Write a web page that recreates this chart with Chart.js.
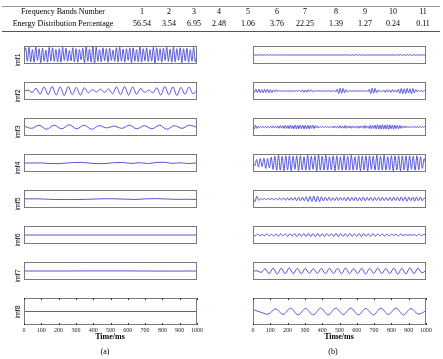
<!DOCTYPE html>
<html>
<head>
<meta charset="utf-8">
<script src="https://cdn.jsdelivr.net/npm/chart.js@4.4.1/dist/chart.umd.min.js"></script>
<style>
  body { margin: 0; background: #fff; width: 443px; height: 359px; position: relative; overflow: hidden; font-family: "Liberation Serif", serif; color: #000; }
  #table { position: absolute; left: 0; top: 0; width: 443px; height: 34px; filter: grayscale(1); }
  .cell { position: absolute; width: 60px; height: 10px; line-height: 10px; text-align: center; font-size: 8px; white-space: nowrap; color: #000; }
  .rule { position: absolute; left: 2px; width: 438px; height: 1px; }
  .imf { position: absolute; font-family: "Liberation Sans", sans-serif; font-size: 7px; color: #000; transform: translate(-50%, -50%) rotate(-90deg); }
  .cap { position: absolute; width: 60px; height: 10px; line-height: 10px; text-align: center; font-size: 8px; color: #000; white-space: nowrap; filter: grayscale(1); }
</style>
</head>
<body>
<div class="rule" style="top:6px;background:#9a9a9a"></div>
<div class="rule" style="top:31px;background:#555"></div>
<div id="table"></div>
<div id="panels"></div>
<div class="cap" style="left:80px;top:332px;font-weight:bold">Time/ms</div>
<div class="cap" style="left:309px;top:332px;font-weight:bold">Time/ms</div>
<div class="cap" style="left:75px;top:347px">(a)</div>
<div class="cap" style="left:303px;top:347px">(b)</div>
<script>
// table data
const bandNumbers = ["1", "2", "3", "4", "5", "6", "7", "8", "9", "10", "11"];
const energyPercent = ["56.54", "3.54", "6.95", "2.48", "1.06", "3.76", "22.25", "1.39", "1.27", "0.24", "0.11"];
const rowLabels = ["Frequency Bands Number", "Energy Distribution Percentage"];

// x axis ticks (ms)
const timeTicks = [0, 100, 200, 300, 400, 500, 600, 700, 800, 900, 1000];

// left column (a): imf1..imf8, read as successive peaks / troughs
const imf1 = [0.1,0.8,-0.7,0.85,-0.75,0.6,-0.8,0.9,-0.6,0.7,-0.85,0.75,-0.7,0.55,-0.8,0.85,-0.65,0.8,-0.7,0.6,
  -0.75,0.7,-0.8,0.85,-0.6,0.75,-0.7,0.5,-0.65,0.8,-0.75,0.7,-0.8,0.6,-0.55,0.75,-0.85,0.9,-0.7,0.65,
  -0.8,0.95,-0.9,0.85,-0.7,0.6,-0.75,0.8,-0.65,0.7,-0.8,0.75,-0.6,0.55,-0.7,0.8,-0.75,0.85,-0.7,0.65,
  -0.8,0.7,-0.6,0.75,-0.85,0.8,-0.7,0.6,-0.75,0.9,-0.8,0.7,-0.65,0.8,-0.75,0.6,-0.7,0.85,-0.9,0.8,
  -0.65,0.7,-0.8,0.75,-0.6,0.85,-0.7,0.65,-0.8,0.9,-0.75,0.7,-0.6,0.8,-0.85,0.7,-0.65,0.75,-0.8,0.6,
  -0.7,0.85,-0.75,0.1];
const imf2 = [0,0.1,-0.15,0.3,-0.35,0.45,-0.4,0.5,-0.45,0.45,-0.5,0.5,-0.4,0.4,-0.45,0.35,-0.2,0.15,-0.1,0.2,
  -0.15,0.25,-0.3,0.45,-0.4,0.5,-0.45,0.45,-0.35,0.3,-0.15,0.1,-0.2,0.35,-0.45,0.5,-0.4,0.45,-0.5,0.4,
  -0.35,0.45,-0.3,0.1];
const imf3 = [0.1,-0.15,0.2,-0.25,0.2,-0.2,0.25,-0.2,0.2,-0.25,0.15,-0.1,0.1,-0.15,0.2,-0.2,0.15,-0.2,0.2,-0.25,
  0.15,-0.15,0.2,-0.05];
const imf4 = [0,0,0.01,-0.06,-0.07,-0.02,0.05,0.06,-0.02,-0.07,-0.05,0.04,0.06,-0.05,0.03,-0.06,0.05,0.09,-0.04,0.02,-0.06,0.02];
const imf5 = [0.02,0.02,0,-0.06,-0.06,-0.06,-0.04,0,0.03,0.02,-0.02,-0.05,0.02,0.04,0,-0.04,-0.03,-0.05];
const imf6 = [0,0];
const imf7 = [0,0,0.01,0.01,-0.01,0];
const imf8 = [0,0];

// right column (b)
const bandB1 = [0,0,0,0,0,0.03,-0.04,0.05,-0.05,0.04,-0.05,0.05,-0.04,0.05,-0.05,0.04,-0.03,0.02,0,0,
  0,0,0,0,0,0,0,0,0,0, 0,0,0,0,0,0,0,0,0,0, 0,0,0,0,0,0,0,0,0,0, 0,0,0,0,0,0,0,0,0,0.02,
  -0.03,0.04,-0.05,0.04,-0.05,0.05,-0.04,0.05,-0.04,0.03, -0.02,0,0,0,0,0,0,0,0,0,
  0,0,0,0,0,0,0,0,0,0.02, -0.03,0.04,-0.05,0.06,-0.06,0.05,-0.06,0.06,-0.05,0.06,
  -0.06,0.05,-0.04,0.03,-0.02,0,0,0,0,0];
const bandB2 = [0.1,-0.15,0.2,-0.18,0.2,-0.2,0.15,-0.2,0.18,-0.15, 0.2,-0.18,0.15,-0.2,0.12,-0.1,0.15,-0.08,0.05,-0.03,
  0.02,-0.02,0.03,-0.02,0.02,-0.03,0.02,-0.02,0.02,-0.02, 0.03,-0.02,0.06,-0.1,0.12,-0.15,0.12,-0.14,0.15,-0.1,
  0.12,-0.08,0.05,-0.04,0.03,-0.02,0.02,-0.03,0.02,-0.02, 0.03,-0.02,0.02,-0.03,0.02,-0.04,0.06,-0.12,0.2,-0.28,
  0.3,-0.25,0.28,-0.2,0.15,-0.1,0.05,-0.03,0.02,-0.02, 0.02,-0.02,0.03,-0.02,0.02,-0.03,0.02,-0.02,0.05,-0.1,
  0.2,-0.28,0.3,-0.25,0.28,-0.2,0.12,-0.08,0.06,-0.1, 0.12,-0.15,0.14,-0.12,0.1,-0.15,0.15,-0.12,0.1,-0.15,
  0.2,-0.25,0.28,-0.3,0.25,-0.3,0.28,-0.22,0.25,-0.3, 0.28,-0.2,0.15,-0.1,0.06,-0.05,0.04,-0.06,0.05,-0.03];
const bandB3 = [0.2,-0.22,0.18,-0.15,0.1,-0.08,0.06,-0.05,0.05,-0.06, 0.08,-0.1,0.08,-0.06,0.08,-0.1,0.12,-0.1,0.08,-0.1,
  0.12,-0.14,0.15,-0.12,0.14,-0.16,0.18,-0.15,0.16,-0.18, 0.2,-0.18,0.16,-0.2,0.22,-0.2,0.18,-0.2,0.22,-0.18,
  0.2,-0.22,0.2,-0.18,0.2,-0.22,0.18,-0.15,0.2,-0.18, 0.15,-0.12,0.1,-0.08,0.06,-0.05,0.04,-0.05,0.06,-0.05,
  0.04,-0.05,0.06,-0.08,0.1,-0.12,0.1,-0.08,0.1,-0.12, 0.14,-0.12,0.1,-0.14,0.16,-0.14,0.12,-0.1,0.12,-0.14,
  0.12,-0.1,0.08,-0.1,0.12,-0.14,0.12,-0.1,0.12,-0.15, 0.16,-0.14,0.12,-0.15,0.18,-0.2,0.18,-0.15,0.2,-0.22,
  0.24,-0.22,0.2,-0.25,0.26,-0.24,0.2,-0.22,0.25,-0.26, 0.24,-0.2,0.22,-0.25,0.22,-0.18,0.16,-0.2,0.18,-0.15,
  0.12,-0.1,0.12,-0.1,0.08,-0.06,0.05,-0.04,0.05,-0.06, 0.08,-0.1,0.08,-0.06,0.05,-0.04,0.05,-0.06,0.04,-0.02];
const bandB4 = [0.1,-0.3,0.4,-0.45,0.5,-0.4,0.55,-0.6,0.5,-0.55, 0.65,-0.7,0.75,-0.8,0.85,-0.8,0.75,-0.85,0.8,-0.75,
  0.8,-0.85,0.75,-0.7,0.8,-0.85,0.8,-0.75,0.7,-0.8, 0.85,-0.8,0.75,-0.7,0.8,-0.85,0.9,-0.8,0.75,-0.8,
  0.85,-0.8,0.7,-0.75,0.8,-0.85,0.8,-0.75,0.7,-0.8, 0.85,-0.8,0.75,-0.8,0.85,-0.8,0.7,-0.75,0.8,-0.85,
  0.8,-0.75,0.8,-0.85,0.8,-0.7,0.75,-0.8,0.85,-0.8, 0.75,-0.8,0.85,-0.8,0.7,-0.75,0.8,-0.85,0.8,-0.75,
  0.8,-0.85,0.8,-0.75,0.8,-0.85,0.8,-0.7,0.75,-0.8, 0.8,-0.75,0.7,-0.6,0.5,-0.3];
const bandB5 = [0.1,-0.3,0.3,-0.15,0.05,-0.05,0.06,-0.08,0.06,-0.05, 0.08,-0.1,0.08,-0.1,0.12,-0.1,0.12,-0.14,0.12,-0.15,
  0.16,-0.15,0.18,-0.2,0.18,-0.2,0.22,-0.2,0.25,-0.28, 0.3,-0.28,0.32,-0.3,0.28,-0.3,0.25,-0.22,0.2,-0.18,
  0.2,-0.18,0.15,-0.18,0.2,-0.18,0.16,-0.15,0.18,-0.2, 0.2,-0.22,0.2,-0.18,0.2,-0.22,0.18,-0.2,0.22,-0.2,
  0.18,-0.16,0.18,-0.2,0.18,-0.16,0.18,-0.2,0.2,-0.18, 0.16,-0.18,0.2,-0.22,0.2,-0.18,0.2,-0.22,0.24,-0.2,
  0.22,-0.25,0.22,-0.2,0.22,-0.25,0.22,-0.2,0.22,-0.2, 0.1,-0.05];
const bandB6 = [0.02,-0.1,0.1,-0.08,0.06,-0.1,0.12,-0.1,0.08,-0.1, 0.12,-0.14,0.12,-0.1,0.12,-0.15,0.14,-0.12,0.15,-0.18,
  0.16,-0.14,0.16,-0.18,0.2,-0.18,0.16,-0.2,0.18,-0.16, 0.14,-0.16,0.15,-0.12,0.14,-0.16,0.18,-0.2,0.18,-0.16,
  0.14,-0.16,0.18,-0.15,0.12,-0.14,0.16,-0.18,0.16,-0.14, 0.12,-0.14,0.16,-0.14,0.12,-0.1,0.12,-0.14,0.12,-0.1,
  0.08,-0.06,0.1,-0.12,0.1,-0.06,0.04,-0.02,0.02,-0.03, 0.06,-0.1,0.12,-0.1,0.06,0.02];
const bandB7 = [0,0.02,-0.15,0.25,-0.3,0.32,-0.35,0.3,-0.32,0.35, -0.3,0.28,-0.32,0.3,-0.28,0.25,-0.28,0.3,-0.32,0.3,
  -0.28,0.3,-0.32,0.35,-0.3,0.28,-0.3,0.32,-0.35,0.3, -0.28,0.32,-0.3,0.28,-0.3,0.32,-0.35,0.3,-0.32,0.35,
  -0.3,0.3,-0.2,0.05];
const bandB8 = [0.15,-0.05,-0.2,0.2,-0.22,0.25,-0.25,0.22,-0.25,0.25, -0.25,0.25,-0.22,0.25,-0.25,0.22,-0.25,0.25,-0.22,0.25,
  -0.25,0.22,-0.2,0.05];

const leftSeries = [imf1, imf2, imf3, imf4, imf5, imf6, imf7, imf8];
const leftNames = ["imf1", "imf2", "imf3", "imf4", "imf5", "imf6", "imf7", "imf8"];
const rightSeries = [bandB1, bandB2, bandB3, bandB4, bandB5, bandB6, bandB7, bandB8];

// table
const table = document.getElementById("table");
const colX = [142, 169, 194, 219, 248, 277, 305, 336, 365, 393, 423];
function addCell(text, x, y, w) {
  const d = document.createElement("div");
  d.className = "cell";
  d.style.width = w + "px";
  d.style.left = (x - w / 2) + "px";
  d.style.top = (y - 5) + "px";
  d.textContent = text;
  table.appendChild(d);
}
addCell(rowLabels[0], 63, 12, 140);
addCell(rowLabels[1], 63, 24, 140);
bandNumbers.forEach((t, i) => addCell(t, colX[i], 12, 30));
energyPercent.forEach((t, i) => addCell(t, colX[i], 24, 30));

// frame + inward ticks like the original figure
const frameTicks = {
  id: "frameTicks",
  afterDatasetsDraw(chart, args, opts) {
    const { ctx, chartArea: a, scales } = chart;
    ctx.save();
    ctx.strokeStyle = "#7a7a7a";
    ctx.lineWidth = 1;
    ctx.strokeRect(a.left + 0.5, a.top + 0.5, a.width - 1, a.height - 1);
    if (opts.ticks) {
      ctx.strokeStyle = "#333";
      scales.x.ticks.forEach(t => {
        const x = Math.round(scales.x.getPixelForValue(t.value)) + 0.5;
        ctx.beginPath();
        ctx.moveTo(x, a.bottom);
        ctx.lineTo(x, a.bottom - 2);
        ctx.moveTo(x, a.top);
        ctx.lineTo(x, a.top + 2);
        ctx.stroke();
      });
    }
    ctx.restore();
  }
};

const PAD = 10, BOX_W = 173, BOX_H = 27, AXIS_H = 9;
const panels = document.getElementById("panels");

function makePanel(values, boxLeft, boxTop, isBottom) {
  const canvas = document.createElement("canvas");
  const w = BOX_W + 2 * PAD;
  const h = BOX_H + 2 + (isBottom ? AXIS_H : 2);
  canvas.width = w;
  canvas.height = h;
  canvas.style.position = "absolute";
  canvas.style.left = (boxLeft - PAD) + "px";
  canvas.style.top = (boxTop - 2) + "px";
  panels.appendChild(canvas);

  const points = values.map((v, i) => ({ x: i * 1000 / (values.length - 1), y: v }));

  new Chart(canvas, {
    type: "line",
    data: {
      datasets: [{
        data: points,
        borderColor: "#4343d6",
        borderWidth: 0.9,
        pointRadius: 0,
        cubicInterpolationMode: "monotone",
        fill: false
      }]
    },
    options: {
      responsive: false,
      animation: false,
      devicePixelRatio: 1,
      layout: { padding: { left: PAD, right: PAD, top: 2, bottom: isBottom ? 0 : 2 } },
      plugins: { legend: { display: false }, tooltip: { enabled: false }, frameTicks: { ticks: isBottom } },
      scales: {
        x: {
          type: "linear",
          min: 0,
          max: 1000,
          display: isBottom,
          afterBuildTicks: s => { s.ticks = timeTicks.map(v => ({ value: v })); },
          afterFit: s => { s.height = AXIS_H; },
          grid: { display: false, drawTicks: false },
          border: { display: false },
          ticks: {
            padding: 2, maxRotation: 0, autoSkip: false, color: "#222",
            font: { family: "Liberation Serif", size: 6 },
            callback: v => String(v)
          }
        },
        y: { display: false, min: -1, max: 1 }
      }
    },
    plugins: [frameTicks]
  });
}

for (let k = 0; k < 8; k++) {
  const top = 46 + 36 * k;
  makePanel(leftSeries[k], 24, top, k === 7);
  makePanel(rightSeries[k], 253, top, k === 7);
  const lab = document.createElement("div");
  lab.className = "imf";
  lab.style.left = "17px";
  lab.style.top = (top + BOX_H / 2) + "px";
  lab.textContent = leftNames[k];
  panels.appendChild(lab);
}
</script>
</body>
</html>
